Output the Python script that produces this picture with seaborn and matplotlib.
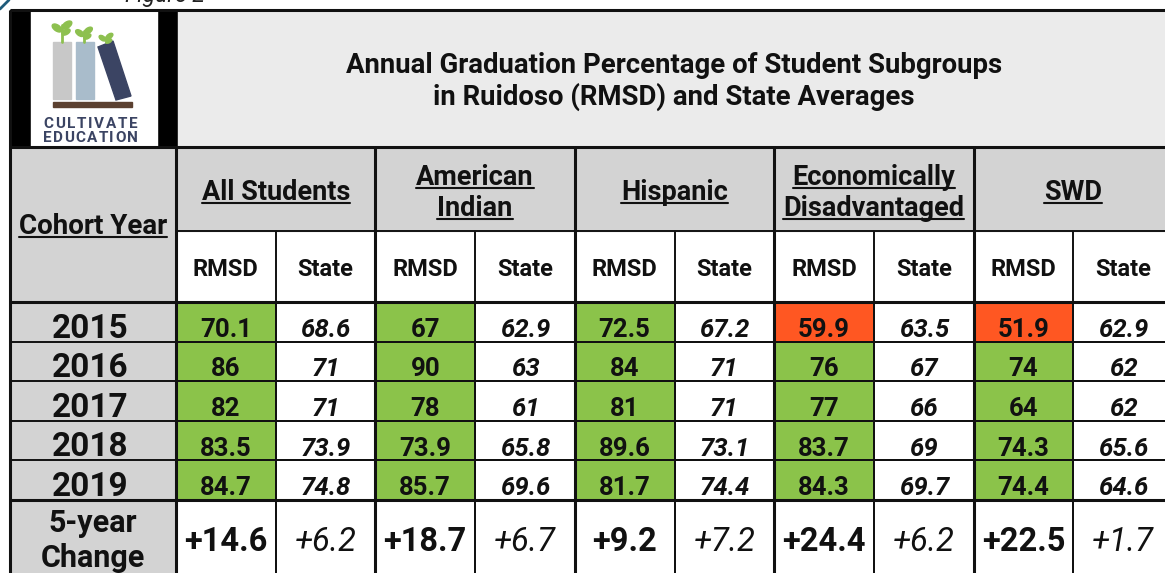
import numpy as np
import pandas as pd
import matplotlib.pyplot as plt
import seaborn as sns
from matplotlib.colors import ListedColormap
from matplotlib.patches import Rectangle, Polygon, Ellipse

# Datos de la tabla
years = ['2015', '2016', '2017', '2018', '2019']
groups = [['All Students'], ['American', 'Indian'], ['Hispanic'],
          ['Economically', 'Disadvantaged'], ['SWD']]
sub_cols = ['RMSD', 'State']

all_rmsd = [70.1, 86, 82, 83.5, 84.7]
all_state = [68.6, 71, 71, 73.9, 74.8]
ai_rmsd = [67, 90, 78, 73.9, 85.7]
ai_state = [62.9, 63, 61, 65.8, 69.6]
hisp_rmsd = [72.5, 84, 81, 89.6, 81.7]
hisp_state = [67.2, 71, 71, 73.1, 74.4]
econ_rmsd = [59.9, 76, 77, 83.7, 84.3]
econ_state = [63.5, 67, 66, 69, 69.7]
swd_rmsd = [51.9, 74, 64, 74.3, 74.4]
swd_state = [62.9, 62, 62, 65.6, 64.6]

change = ['+14.6', '+6.2', '+18.7', '+6.7', '+9.2', '+7.2', '+24.4', '+6.2', '+22.5', '+1.7']

title_lines = ['Annual Graduation Percentage of Student Subgroups',
               'in Ruidoso (RMSD) and State Averages']

# Tabla de valores
pairs = [(all_rmsd, all_state), (ai_rmsd, ai_state), (hisp_rmsd, hisp_state),
         (econ_rmsd, econ_state), (swd_rmsd, swd_state)]
cols = []
for r, s in pairs:
    cols += [r, s]
df = pd.DataFrame(np.array(cols).T, index=years)

# codigo de color: 0 = estado, 1 = RMSD >= estado, 2 = RMSD < estado
codes = np.zeros(df.shape)
for k, (r, s) in enumerate(pairs):
    codes[:, 2 * k] = np.where(np.array(r) >= np.array(s), 1, 2)

GREEN = '#8bc34a'
ORANGE = '#ff5722'
GRAY = '#d3d3d3'
LIGHT = '#ebebeb'
NAVY = '#3b4463'
INK = '#111111'

sns.set_theme(style='white')
plt.rcParams['font.family'] = ['Roboto', 'DejaVu Sans']

W, H = 1165, 573
fig = plt.figure(figsize=(W / 100, H / 100), dpi=100)

x0, col_w = 176, 99.7
y_top, y_bot, y_end = 302, 500, 576
edges_x = [x0 + col_w * k for k in range(11)]
edges_y = np.linspace(y_top, y_bot, 6)

# Celdas de datos (heatmap)
hax = fig.add_axes([x0 / W, 1 - y_bot / H, 10 * col_w / W, (y_bot - y_top) / H])
sns.heatmap(codes, cmap=ListedColormap(['white', GREEN, ORANGE]), vmin=-0.5, vmax=2.5,
            cbar=False, linewidths=1.4, linecolor=INK, ax=hax,
            xticklabels=False, yticklabels=False)
for i in range(df.shape[0]):
    for j in range(df.shape[1]):
        lab = f'{df.iloc[i, j]:g}'
        style = 'normal' if j % 2 == 0 else 'italic'
        hax.text(j + 0.5, i + 0.88, lab, ha='center', va='baseline',
                 fontsize=18.5, fontweight='bold', style=style, color=INK)

# Fila de cambio a 5 anos
cax = fig.add_axes([x0 / W, 1 - y_end / H, 10 * col_w / W, (y_end - y_bot) / H])
sns.heatmap(np.zeros((1, 10)), cmap=ListedColormap(['white']), cbar=False,
            linewidths=1.4, linecolor=INK, ax=cax,
            xticklabels=False, yticklabels=False)
for j, lab in enumerate(change):
    if j % 2 == 0:
        cax.text(j + 0.5, 0.67, lab, ha='center', va='baseline', fontsize=23.5,
                 fontweight='bold', color=INK)
    else:
        cax.text(j + 0.5, 0.67, lab, ha='center', va='baseline', fontsize=23.5,
                 fontweight='normal', style='italic', color=INK)
for a in (hax, cax):
    for sp in a.spines.values():
        sp.set_visible(False)

# Capa superior: encabezados, logo y lineas
ax = fig.add_axes([0, 0, 1, 1], zorder=3)
ax.set_xlim(0, W)
ax.set_ylim(H, 0)
ax.axis('off')

ax.add_patch(Rectangle((10, 10), 168, 137, color='black'))
ax.add_patch(Rectangle((178, 10), W - 178, 137, color=LIGHT))
ax.add_patch(Rectangle((10, 147), x0 - 10, H - 147, color=GRAY))
ax.add_patch(Rectangle((x0, 147), W - x0, 84, color=GRAY))

# logo
ax.add_patch(Rectangle((31, 11), 126, 135, color='white'))
ax.add_patch(Rectangle((53, 42), 18, 57, color='#c8c8c8'))
ax.add_patch(Rectangle((76, 42), 18, 57, color='#a9bccb'))
ax.add_patch(Polygon([(98, 47), (113, 41), (131, 96), (116, 100)], color=NAVY))
ax.add_patch(Rectangle((53, 102), 79, 5, color='#5b4030'))
leaf = '#8dc04f'
for sx, top, s in [(62, 22, 1.0), (84, 28, 0.85), (106, 34, 0.7)]:
    ax.plot([sx, sx], [top + 3, 42], color=leaf, lw=2)
    ax.add_patch(Ellipse((sx - 5 * s, top + 6 * s), 11 * s, 6 * s, angle=35, color=leaf))
    ax.add_patch(Ellipse((sx + 5 * s, top + 3 * s), 11 * s, 6 * s, angle=-35, color=leaf))
    ax.add_patch(Ellipse((sx + 4 * s, top + 10 * s), 9 * s, 5 * s, angle=-30, color=leaf))
logo_letters = []
for word, yb in [('CULTIVATE', 128), ('EDUCATION', 142)]:
    row = [ax.text(0, yb, ch, ha='left', va='baseline', fontsize=11,
                   fontweight='bold', color=NAVY) for ch in word]
    logo_letters.append(row)

ax.text(125, 2, 'Figure 2', ha='left', va='baseline', fontsize=16.5, style='italic',
        color='#222222')
ax.plot([0, 9], [9, 0], color='#1f5b7a', lw=2)

# titulo
ax.text(674, 73, title_lines[0], ha='center', va='baseline', fontsize=19.8,
        fontweight='bold', color=INK)
ax.text(674, 105, title_lines[1], ha='center', va='baseline', fontsize=19.8,
        fontweight='bold', color=INK)

# encabezados subrayados
underline = []
t = ax.text(93, 234, 'Cohort Year', ha='center', va='baseline', fontsize=20,
            fontweight='bold', color=INK)
underline.append((t, 234))
for k, lines in enumerate(groups):
    cx = (edges_x[2 * k] + edges_x[2 * k + 2]) / 2
    bl = [200] if len(lines) == 1 else [185, 216]
    for line, b in zip(lines, bl):
        t = ax.text(cx, b, line, ha='center', va='baseline', fontsize=19.5,
                    fontweight='bold', color=INK)
        underline.append((t, b))

for j in range(10):
    cx = (edges_x[j] + edges_x[j + 1]) / 2
    ax.text(cx, 276, sub_cols[j % 2], ha='center', va='baseline', fontsize=17,
            fontweight='bold', color=INK)

for i, yr in enumerate(years):
    ax.text(90, edges_y[i + 1] - 4, yr, ha='center', va='baseline', fontsize=24,
            fontweight='bold', color=INK)
ax.text(93, 532, '5-year', ha='center', va='baseline', fontsize=22,
        fontweight='bold', color=INK)
ax.text(93, 567, 'Change', ha='center', va='baseline', fontsize=22,
        fontweight='bold', color=INK)

# lineas de la tabla
thick, thin = 2.2, 1.4
ln = dict(color=INK, solid_capstyle='butt')
ax.plot([10, W], [10, 10], lw=thick, **ln)
ax.plot([10, W], [147, 147], lw=thick, **ln)
ax.plot([x0, W], [231, 231], lw=thin, **ln)
ax.plot([10, W], [y_top, y_top], lw=thick, **ln)
ax.plot([10, W], [y_bot, y_bot], lw=thick, **ln)
for yy in edges_y[1:-1]:
    ax.plot([10, x0], [yy, yy], lw=thin, **ln)
ax.plot([10, 10], [10, H], lw=thick, **ln)
ax.plot([x0, x0], [147, H], lw=thick, **ln)
for k in range(2, 10, 2):
    ax.plot([edges_x[k], edges_x[k]], [147, H], lw=thick, **ln)
for k in range(1, 10, 2):
    ax.plot([edges_x[k], edges_x[k]], [231, y_top], lw=thin, **ln)

fig.canvas.draw()
rend = fig.canvas.get_renderer()
inv = ax.transData.inverted()
for t, b in underline:
    bb = t.get_window_extent(rend)
    xa = inv.transform((bb.x0, 0))[0]
    xb = inv.transform((bb.x1, 0))[0]
    ax.plot([xa, xb], [b + 3, b + 3], color=INK, lw=1.5)

# espaciado de letras del logo (ancho objetivo 43 -> 138)
for row in logo_letters:
    widths = [t.get_window_extent(rend).width for t in row]
    track = (95 - sum(widths)) / (len(row) - 1)
    xx = 43
    for t, w in zip(row, widths):
        t.set_x(xx)
        xx += w + track

fig.savefig('out.png', dpi=100)
